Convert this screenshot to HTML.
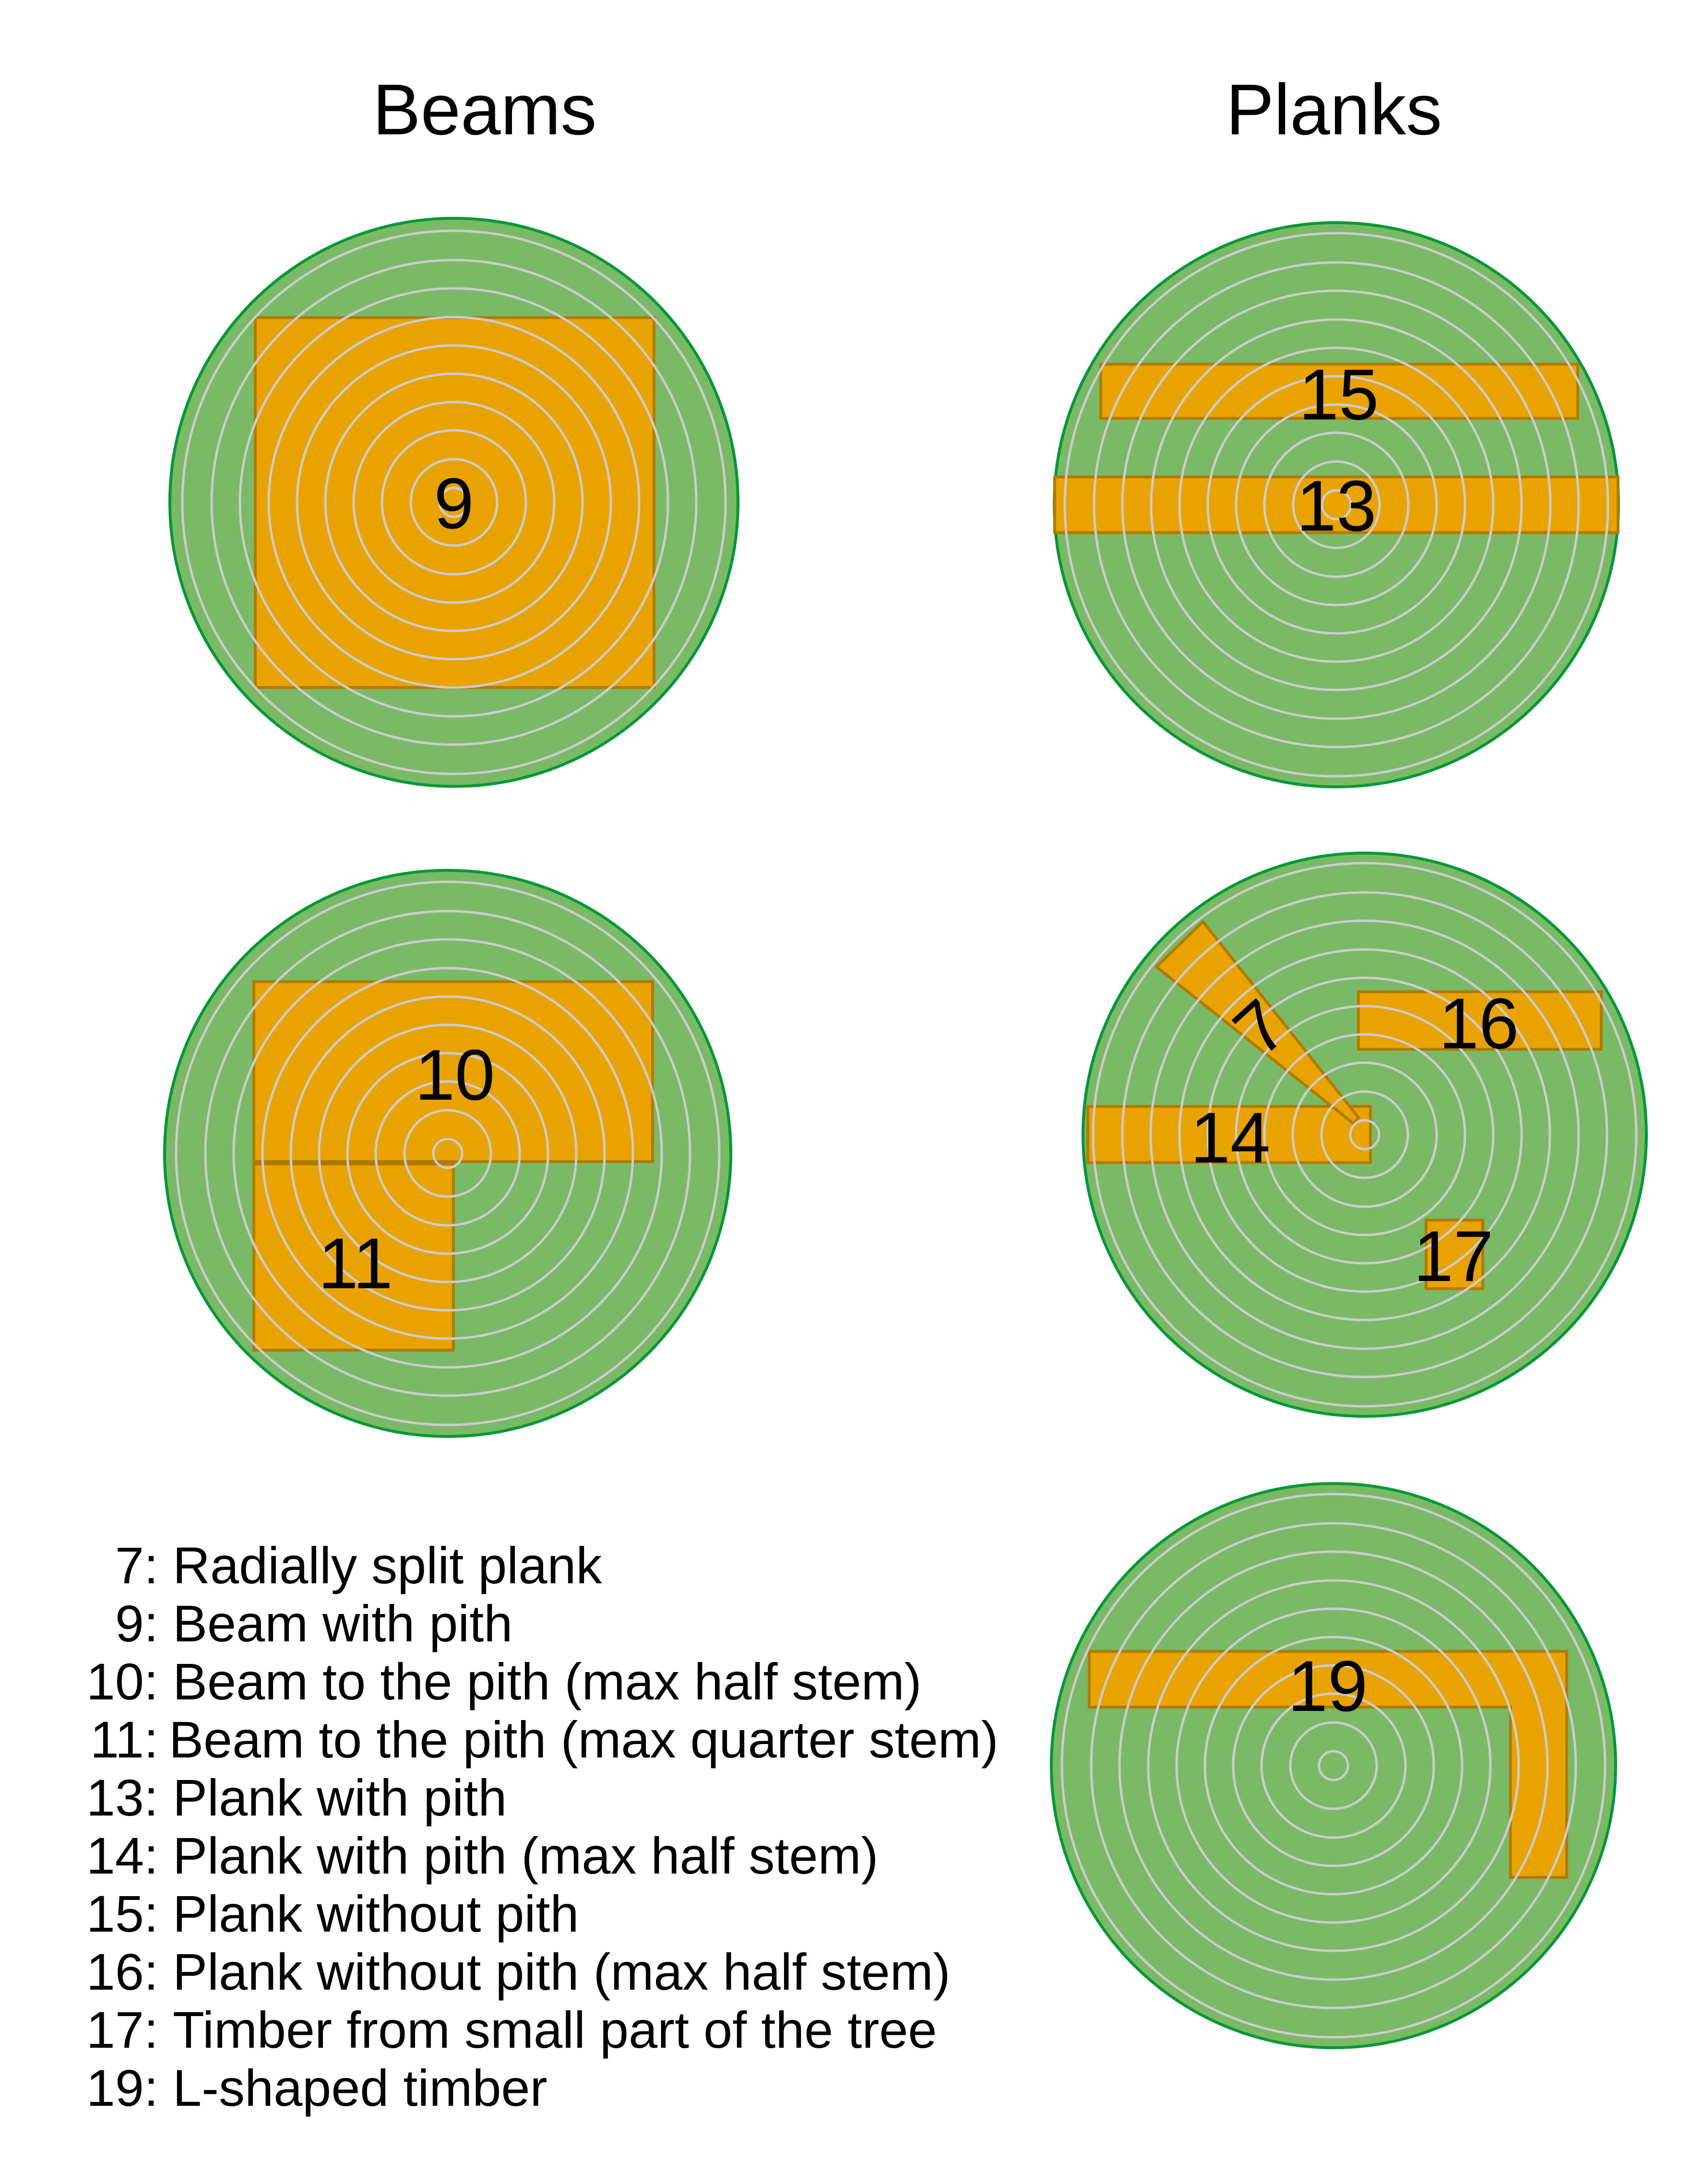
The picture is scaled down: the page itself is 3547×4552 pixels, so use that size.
<!DOCTYPE html>
<html><head><meta charset="utf-8"><style>
html,body{margin:0;padding:0;background:#fff;}
svg{display:block;font-family:"Liberation Sans",sans-serif;}
</style></head><body>
<svg id="s" width="3547" height="4552" viewBox="0 0 3547 4552">
<text x="1010" y="280" font-size="150" text-anchor="middle">Beams</text>
<text x="2780" y="280" font-size="150" text-anchor="middle">Planks</text>
<g id="logs"></g>
<g id="pieces" fill="#e8a300" stroke="#b07b00" stroke-width="6">
<rect x="532" y="662" width="831" height="771"/>
<rect x="2294" y="759" width="994" height="113"/>
<rect x="2198" y="994" width="1174" height="116"/>
<rect x="529" y="2046" width="831" height="375"/>
<rect x="529" y="2426" width="416" height="388"/>
<rect x="2267" y="2306" width="589" height="117"/>
<rect x="2831" y="2067" width="506" height="120"/>
<rect x="2972" y="2543" width="118" height="143"/>
<polygon points="2507,1921 2831,2329 2821,2342 2410,2015"/>
<polygon points="2270,3442 3265,3442 3265,3913 3148,3913 3148,3558 2270,3558"/>
</g>
<g id="rings" fill="none" stroke="#cccccc" stroke-width="5"></g>
<g font-size="150" text-anchor="middle" fill="#000">
<text x="946" y="1101">9</text>
<text x="2790" y="874">15</text>
<text x="2785" y="1106">13</text>
<text x="948" y="2292">10</text>
<text x="741" y="2685">11</text>
<text x="2564" y="2423">14</text>
<text x="3082" y="2185">16</text>
<text x="3029" y="2670">17</text>
<text x="2767" y="3566">19</text>
<text transform="translate(2661,2180) rotate(-42)" x="0" y="0">7</text>
</g>
<g font-size="108" fill="#000" id="legend">
<text x="330" y="3300" text-anchor="end">7:</text><text x="360" y="3300">Radially split plank</text>
<text x="330" y="3421" text-anchor="end">9:</text><text x="360" y="3421">Beam with pith</text>
<text x="330" y="3542" text-anchor="end">10:</text><text x="360" y="3542">Beam to the pith (max half stem)</text>
<text x="330" y="3663" text-anchor="end">11:</text><text x="352" y="3663">Beam to the pith (max quarter stem)</text>
<text x="330" y="3784" text-anchor="end">13:</text><text x="360" y="3784">Plank with pith</text>
<text x="330" y="3905" text-anchor="end">14:</text><text x="360" y="3905">Plank with pith (max half stem)</text>
<text x="330" y="4026" text-anchor="end">15:</text><text x="360" y="4026">Plank without pith</text>
<text x="330" y="4147" text-anchor="end">16:</text><text x="360" y="4147">Plank without pith (max half stem)</text>
<text x="330" y="4268" text-anchor="end">17:</text><text x="360" y="4268">Timber from small part of the tree</text>
<text x="330" y="4389" text-anchor="end">19:</text><text x="360" y="4389">L-shaped timber</text>
</g>
</svg>
<script>
const logNames = ["log-9", "log-13-15", "log-10-11", "log-7-14-16-17", "log-19"];
const logCx = [946, 2785, 933, 2844, 2779];
const logCy = [1047, 1052, 2404, 2365, 3680];
const logR = [592, 588, 590, 587, 588];
const ringRadii = [30, 90, 150, 209, 268, 327, 386, 446, 505, 566];
const NS = "http://www.w3.org/2000/svg";
const logs = document.getElementById("logs");
const rings = document.getElementById("rings");
for (let i = 0; i < logNames.length; i++) {
  const c = document.createElementNS(NS, "circle");
  c.setAttribute("cx", logCx[i]); c.setAttribute("cy", logCy[i]); c.setAttribute("r", logR[i]);
  c.setAttribute("fill", "#7aba67"); c.setAttribute("stroke", "#009933"); c.setAttribute("stroke-width", "6");
  
  
  logs.appendChild(c);
  for (let k = 0; k < ringRadii.length; k++) {
    const r = document.createElementNS(NS, "circle");
    r.setAttribute("cx", logCx[i]); r.setAttribute("cy", logCy[i]); r.setAttribute("r", ringRadii[k]);
    
    
    rings.appendChild(r);
  }
}
</script>
</body></html>
